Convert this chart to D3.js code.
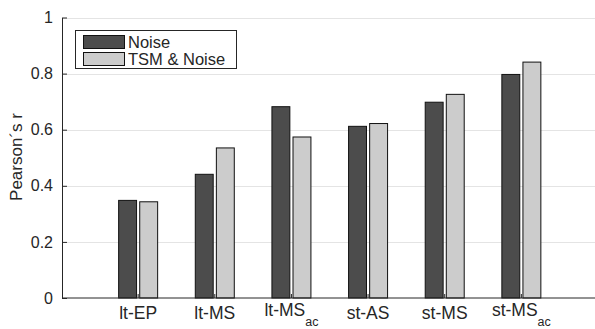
<!DOCTYPE html>
<html>
<head>
<meta charset="utf-8">
<script src="https://cdn.jsdelivr.net/npm/d3@7"></script>
<style>
  body { margin: 0; background: #fff; }
  text { font-family: "Liberation Sans", Arial, sans-serif; fill: #262626; }
</style>
</head>
<body>
<div id="chart-area"></div>
<script>
// data
var categories = ['lt-EP', 'lt-MS', 'lt-MS', 'st-AS', 'st-MS', 'st-MS'];
var subscripts = ['', '', 'ac', '', '', 'ac'];
var series = ['Noise', 'TSM & Noise'];
var noise    = [0.348, 0.441, 0.682, 0.612, 0.698, 0.797];
var tsmNoise = [0.343, 0.535, 0.574, 0.622, 0.726, 0.841];
var yTicks = [0, 0.2, 0.4, 0.6, 0.8, 1];

var colors = ['#4c4c4c', '#cccccc'];

var W = 595, H = 329;
var plotLeft = 62, plotRight = 598, plotTop = 17.5, plotBottom = 298;

var svg = d3.select('#chart-area').append('svg')
    .attr('width', W)
    .attr('height', H);

var idx = categories.map(function(d, i){ return i; });

//x scale
var x = d3.scaleBand()
    .domain(idx)
    .range([plotLeft - 0.5, plotRight])
    .paddingInner(0)
    .paddingOuter(0.5);

//inner scale for the two series
var x1 = d3.scaleBand()
    .domain(series)
    .range([-19.5, 19.5])
    .paddingInner(0.15);

//y scale
var y = d3.scaleLinear()
    .domain([0, 1])
    .range([plotBottom, plotTop]);

//grid
svg.append('g')
  .selectAll('line')
  .data(yTicks.slice(1))
  .enter().append('line')
    .attr('x1', plotLeft).attr('x2', W)
    .attr('y1', function(d){ return Math.round(y(d)) + 0.5; })
    .attr('y2', function(d){ return Math.round(y(d)) + 0.5; })
    .attr('stroke', '#e4e4e4')
    .attr('stroke-width', 1);

//bars
var rows = idx.map(function(i){
  return [{ s: series[0], v: noise[i], c: colors[0] },
          { s: series[1], v: tsmNoise[i], c: colors[1] }];
});

var groups = svg.append('g')
  .selectAll('g')
  .data(rows)
  .enter().append('g')
    .attr('transform', function(d, i){ return 'translate(' + (x(i) + x.bandwidth() / 2) + ',0)'; });

groups.selectAll('rect')
  .data(function(d){ return d; })
  .enter().append('rect')
    .attr('x', function(d){ return x1(d.s); })
    .attr('width', x1.bandwidth())
    .attr('y', function(d){ return y(d.v); })
    .attr('height', function(d){ return plotBottom - y(d.v); })
    .attr('fill', function(d){ return d.c; })
    .attr('stroke', '#111')
    .attr('stroke-width', 1);

//y axis
var yAxis = d3.axisLeft(y)
    .tickValues(yTicks)
    .tickFormat(d3.format('~g'))
    .tickSizeInner(-5)
    .tickSizeOuter(0)
    .tickPadding(9);

var gy = svg.append('g')
    .attr('transform', 'translate(' + plotLeft + ',0)')
    .call(yAxis);
gy.select('.domain').attr('stroke', '#262626');
gy.selectAll('.tick line').attr('stroke', '#262626');
gy.selectAll('.tick text')
    .attr('font-family', '"Liberation Sans", Arial, sans-serif')
    .attr('font-size', '16px')
    .attr('fill', '#262626');

//x axis
var xAxis = d3.axisBottom(x)
    .tickSizeInner(-4)
    .tickSizeOuter(0)
    .tickFormat('');

var gx = svg.append('g')
    .attr('transform', 'translate(0,' + plotBottom + ')')
    .call(xAxis);
gx.select('.domain').attr('stroke', '#262626').attr('d', 'M' + plotLeft + ',0H' + W);
gx.selectAll('.tick line').attr('stroke', '#262626');

//x labels with subscripts
var labels = svg.append('g')
  .selectAll('text')
  .data(idx)
  .enter().append('text')
    .attr('x', function(i){ return x(i) + x.bandwidth() / 2; })
    .attr('y', function(i){ return subscripts[i] ? 316 : 319; })
    .attr('text-anchor', 'middle')
    .attr('font-size', '17.5px');

labels.append('tspan')
    .text(function(i){ return categories[i]; });
labels.filter(function(i){ return subscripts[i]; })
  .append('tspan')
    .attr('dy', 10)
    .attr('font-size', '12.5px')
    .text(function(i){ return subscripts[i]; });

//y label
svg.append('text')
    .attr('transform', 'rotate(-90)')
    .attr('x', -157)
    .attr('y', 22)
    .attr('text-anchor', 'middle')
    .attr('font-size', '17px')
    .text('Pearson\u00b4s r');

//legend
var legend = svg.append('g');
legend.append('rect')
    .attr('x', 75.5).attr('y', 30.5)
    .attr('width', 161).attr('height', 38)
    .attr('fill', '#fff')
    .attr('stroke', '#262626')
    .attr('stroke-width', 1);

series.forEach(function(s, i){
  var row = legend.append('g')
    .attr('transform', 'translate(0,' + (i * 17) + ')');
  row.append('rect')
    .attr('x', 83.5).attr('y', 35.5)
    .attr('width', 41).attr('height', 13)
    .attr('fill', colors[i])
    .attr('stroke', '#111');
  row.append('text')
    .attr('x', 128)
    .attr('y', 47.5)
    .attr('font-size', '16.5px')
    .text(s);
});
</script>
</body>
</html>
